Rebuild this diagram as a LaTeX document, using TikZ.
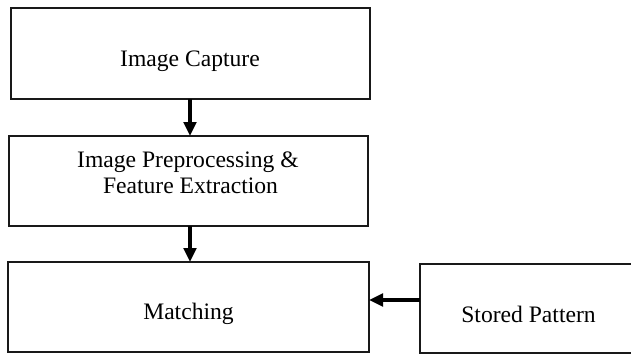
\documentclass[tikz,border=0pt]{standalone}
\usepackage{fontspec}
\setmainfont{Liberation Serif}
\usetikzlibrary{arrows.meta}
\begin{document}
\begin{tikzpicture}[x=1pt,y=-1pt,
  box/.style={draw=black!90,line width=2pt,rectangle,inner sep=0pt,outer sep=0pt},
  lbl/.style={anchor=base,inner sep=0pt,font=\fontsize{23.6}{26}\selectfont},
  arr/.style={line width=3.5pt,-{Triangle[width=12.5pt,length=14pt]}}]
\useasboundingbox (0,0) rectangle (631,354);
\clip (0,0) rectangle (631,354);
\node[box,minimum width=359pt,minimum height=91pt] (b1) at (190.5,53.5) {};
\node[box,minimum width=359pt,minimum height=90pt] (b2) at (188.5,181) {};
\node[box,minimum width=361pt,minimum height=90pt] (b3) at (188.5,307) {};
\node[box,minimum width=240pt,minimum height=89pt] (b4) at (540,308.5) {};
\node[lbl] (t1) at (190,66) {Image Capture};
\node[lbl] (t2a) at (188,167) {Image Preprocessing \&};
\node[lbl] (t2b) at (190.5,193) {Feature Extraction};
\node[lbl] (t3) at (188.5,319) {Matching};
\node[lbl] (t4) at (528.5,322) {Stored Pattern};
\coordinate (ax) at (190,0);
\coordinate (ay) at (0,300);
\draw[arr] (b1.south -| ax) -- (b2.north -| ax);
\draw[arr] (b2.south -| ax) -- (b3.north -| ax);
\draw[arr] (b4.west |- ay) -- (b3.east |- ay);
\end{tikzpicture}
\end{document}
